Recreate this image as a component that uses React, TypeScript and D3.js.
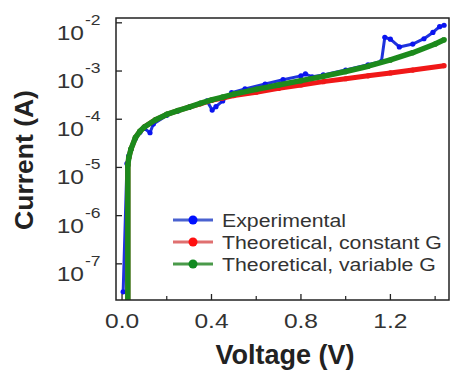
import React from "react";
import * as d3 from "d3";

// ---- data (V in volts, log10 of current in A) ----
const expV = [0.005, 0.022, 0.03, 0.04, 0.06, 0.08, 0.10, 0.125, 0.14, 0.2, 0.25, 0.30, 0.35, 0.38, 0.403, 0.42, 0.45, 0.49, 0.55, 0.64, 0.72, 0.80, 0.82, 0.85, 0.9, 1.0, 1.1, 1.16, 1.175, 1.20, 1.24, 1.30, 1.35, 1.39, 1.42, 1.44];
const expLogI = [-7.58, -4.92, -4.76, -4.62, -4.40, -4.27, -4.19, -4.28, -4.10, -3.92, -3.83, -3.75, -3.67, -3.62, -3.81, -3.74, -3.62, -3.45, -3.37, -3.27, -3.18, -3.10, -3.06, -3.12, -3.08, -2.98, -2.87, -2.80, -2.30, -2.34, -2.50, -2.44, -2.33, -2.20, -2.08, -2.05];

const constV = [0.026, 0.026, 0.03, 0.04, 0.06, 0.08, 0.10, 0.15, 0.20, 0.25, 0.30, 0.35, 0.40, 0.45, 0.50, 0.60, 0.70, 0.80, 0.90, 1.00, 1.10, 1.20, 1.30, 1.44];
const constLogI = [-9, -4.95, -4.80, -4.62, -4.38, -4.25, -4.16, -4.01, -3.90, -3.82, -3.75, -3.68, -3.61, -3.56, -3.51, -3.44, -3.36, -3.29, -3.22, -3.16, -3.10, -3.04, -2.98, -2.89];

const varV = [0.026, 0.026, 0.03, 0.04, 0.06, 0.08, 0.10, 0.15, 0.20, 0.25, 0.30, 0.35, 0.40, 0.45, 0.50, 0.60, 0.70, 0.80, 0.90, 1.00, 1.10, 1.20, 1.30, 1.40, 1.44];
const varLogI = [-9, -4.95, -4.80, -4.62, -4.38, -4.25, -4.16, -4.01, -3.90, -3.82, -3.75, -3.67, -3.60, -3.54, -3.48, -3.38, -3.29, -3.20, -3.11, -3.01, -2.90, -2.77, -2.62, -2.44, -2.35];

const xTicks = [0.0, 0.4, 0.8, 1.2];
const xTickLabels = ["0.0", "0.4", "0.8", "1.2"];
const xMinorTicks = [0.2, 0.6, 1.0, 1.4];
const yExps = [-2, -3, -4, -5, -6, -7];

const seriesNames = ["Experimental", "Theoretical, constant G", "Theoretical, variable G"];

const W = 453, H = 372;
const M = { left: 116, top: 18, right: 449, bottom: 300 };
const SX = 1.17; // horizontal stretch of text, as in the reference

export default function App() {
  const x = d3.scaleLinear().domain([-0.027, 1.462]).range([M.left, M.right]);
  const y = d3.scaleLog().domain([10 ** -7.75, 10 ** -1.9]).range([M.bottom, M.top]);

  const mk = (vs: number[], ls: number[]) => vs.map((v, i) => [v, 10 ** ls[i]] as [number, number]);
  const exp = mk(expV, expLogI);
  const con = mk(constV, constLogI);
  const vari = mk(varV, varLogI);
  const line = d3.line<[number, number]>().x(d => x(d[0])).y(d => y(d[1]));

  const series = [
    { data: exp, stroke: "#1f33dc", fill: "#0a14f0", lw: 3, r: 2.6 },
    { data: con, stroke: "#f01818", fill: "#f01818", lw: 5, r: 2.6 },
    { data: vari, stroke: "#1c8a1c", fill: "#1c8a1c", lw: 5.5, r: 2.8 },
  ];
  const legend = [
    { line: "#4a62d0", fill: "#0010ff" },
    { line: "#e07070", fill: "#ff1010" },
    { line: "#4a9a4a", fill: "#108a20" },
  ];

  return (
    <svg width={W} height={H} style={{ position: "absolute", left: 0, top: 0, background: "#fff" }} fontFamily="'Liberation Sans', Arial, sans-serif">
      <defs>
        <clipPath id="plotclip">
          <rect x={M.left} y={M.top} width={M.right - M.left} height={M.bottom - M.top} />
        </clipPath>
      </defs>
      <g clipPath="url(#plotclip)">
        {series.map((s, i) => (
          <g key={i}>
            <path d={line(s.data) || ""} fill="none" stroke={s.stroke} strokeWidth={i === 0 ? s.lw : s.lw} strokeLinejoin="round" />
            {s.data.map((d, j) => (
              <circle key={j} cx={x(d[0])} cy={y(d[1])} r={s.r} fill={s.fill} />
            ))}
          </g>
        ))}
      </g>
      {/* frame */}
      <rect x={M.left} y={M.top} width={M.right - M.left} height={M.bottom - M.top} fill="none" stroke="#222" strokeWidth={1.5} />
      {/* y ticks */}
      {yExps.map(e => {
        const yy = y(10 ** e);
        return (
          <g key={e}>
            <line x1={M.left} x2={M.left + 6} y1={yy} y2={yy} stroke="#222" strokeWidth={1.3} />
            <text transform={`translate(84,${yy + 17}) scale(${SX},1)`} textAnchor="end" fontSize={21} fill="#333">10</text>
            <text transform={`translate(85,${yy + 2}) scale(${SX},1)`} fontSize={15} fill="#333">{String(e)}</text>
          </g>
        );
      })}
      {/* x ticks */}
      {xTicks.map((t, i) => (
        <g key={t}>
          <line x1={x(t)} x2={x(t)} y1={M.bottom} y2={M.bottom - 6} stroke="#222" strokeWidth={1.3} />
          <text transform={`translate(${x(t)},328) scale(${SX},1)`} textAnchor="middle" fontSize={21} fill="#333">{xTickLabels[i]}</text>
        </g>
      ))}
      {xMinorTicks.map(t => (
        <line key={t} x1={x(t)} x2={x(t)} y1={M.bottom} y2={M.bottom - 4} stroke="#222" strokeWidth={1.2} />
      ))}
      {/* axis titles */}
      <text x={285} y={364} textAnchor="middle" fontSize={27} fontWeight="bold" fill="#222">Voltage (V)</text>
      <text transform="translate(33,160) rotate(-90)" textAnchor="middle" fontSize={26.5} fontWeight="bold" fill="#222">Current (A)</text>
      {/* legend */}
      {seriesNames.map((n, i) => {
        const ly = 220 + i * 22;
        return (
          <g key={n}>
            <line x1={173} x2={213} y1={ly} y2={ly} stroke={legend[i].line} strokeWidth={3} />
            <circle cx={193} cy={ly} r={4.5} fill={legend[i].fill} />
            <text transform={`translate(222,${ly + 7}) scale(1.15,1)`} fontSize={18.5} fill="#333">{n}</text>
          </g>
        );
      })}
    </svg>
  );
}
